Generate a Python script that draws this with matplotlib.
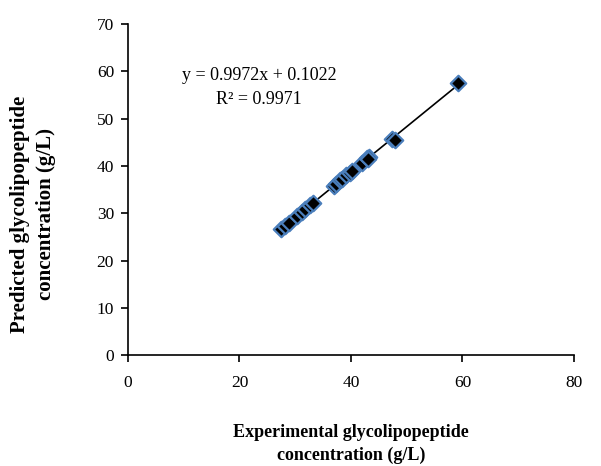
import matplotlib
matplotlib.use("Agg")
import matplotlib.pyplot as plt
import numpy as np

experimental = [27.4, 28.2, 28.8, 30.4, 31.2, 31.8, 32.7, 33.1,
                36.9, 37.4, 38.1, 38.3, 39.1, 39.8, 40.1, 41.9, 42.9, 43.2, 43.0,
                47.4, 47.9, 59.2]
predicted = [26.6, 27.4, 28.0, 29.5, 30.3, 30.9, 31.7, 32.1,
             35.8, 36.3, 37.0, 37.2, 38.0, 38.6, 38.9, 40.7, 41.6, 41.9, 41.4,
             45.8, 45.5, 57.5]

slope = 0.9972
intercept = 0.1022
r2 = 0.9971

x_ticks = [0, 20, 40, 60, 80]
y_ticks = [0, 10, 20, 30, 40, 50, 60, 70]

plt.rcParams['font.family'] = ['Liberation Serif', 'DejaVu Serif']

fig = plt.figure(figsize=(6.01, 4.66), dpi=100)
ax = fig.add_axes([0.213, 0.238, 0.742, 0.71])

# trend line through the plotted points
fit = np.polyfit(experimental, predicted, 1)
xs = np.array([min(experimental), max(experimental)])
ax.plot(xs, np.polyval(fit, xs), color='black', linewidth=1.2, zorder=2)
ax.scatter(experimental, predicted, marker='D', s=62, facecolor='black',
           edgecolor='#4A7EBB', linewidth=1.6, zorder=3)

ax.set_xlim(0, 80)
ax.set_ylim(0, 70)
ax.set_xticks(x_ticks)
ax.set_yticks(y_ticks)
ax.tick_params(axis='both', labelsize=12.5, direction='out', length=5, width=1.2, colors='black')
ax.tick_params(axis='x', pad=9)
ax.tick_params(axis='y', pad=5)
for s in ['top', 'right']:
    ax.spines[s].set_visible(False)
for s in ['left', 'bottom']:
    ax.spines[s].set_linewidth(1.2)

ax.text(23.5, 56.6, f"y = {slope}x + {intercept}\nR\u00b2 = {r2}", ha='center', va='center',
        fontsize=13, linespacing=1.55)

ax.set_xlabel("Experimental glycolipopeptide\nconcentration (g/L)", fontsize=13,
              fontweight='bold', labelpad=24, linespacing=1.45)
fig.text(33 / 601, 1 - 214 / 466, "Predicted glycolipopeptide\nconcentration (g/L)",
         rotation=90, ha='center', va='center', fontsize=15, fontweight='bold',
         linespacing=1.35, multialignment='center')

fig.savefig("out.png", dpi=100)
